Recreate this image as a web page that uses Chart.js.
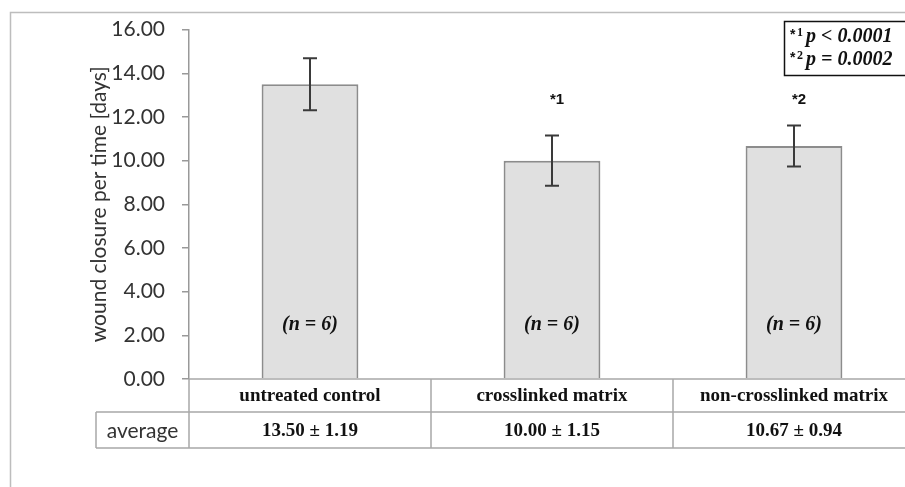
<!DOCTYPE html>
<html>
<head>
<meta charset="utf-8">
<script src="https://cdn.jsdelivr.net/npm/chart.js@4.4.1/dist/chart.umd.min.js"></script>
<style>
  html, body { margin: 0; padding: 0; background: #fff; overflow: hidden; }
  #wrap { position: relative; width: 930px; height: 487px; }
</style>
</head>
<body>
<div id="wrap"><canvas id="chart" width="930" height="487"></canvas></div>
<script>
const categories = ['untreated control', 'crosslinked matrix', 'non-crosslinked matrix'];
const averages = [13.50, 10.00, 10.67];
const errors = [1.19, 1.15, 0.94];
const averageLabels = ['13.50 \u00b1 1.19', '10.00 \u00b1 1.15', '10.67 \u00b1 0.94'];
const sampleLabels = ['(n = 6)', '(n = 6)', '(n = 6)'];
const starLabels = ['', '*1', '*2'];
const pValues = [['*1', 'p < 0.0001'], ['*2', 'p = 0.0002']];

const serifBold = 'bold 19px "Liberation Serif", serif';
const serifItalic = 'italic bold 20px "Liberation Serif", serif';

// frame, error bars, labels, table and p-value box
const extras = {
  id: 'extras',
  beforeDraw(chart) {
    const c = chart.ctx;
    c.save();
    c.strokeStyle = '#bdbdbd';
    c.lineWidth = 1.5;
    c.strokeRect(10.5, 12.5, 1000, 600);
    c.restore();
  },
  afterDatasetsDraw(chart) {
    const c = chart.ctx;
    const x = chart.scales.x, y = chart.scales.y;
    c.save();
    // error bars
    c.strokeStyle = '#3a3a3a';
    c.lineWidth = 2;
    averages.forEach((v, i) => {
      const cx = x.getPixelForValue(i);
      const hi = y.getPixelForValue(v + errors[i]);
      const lo = y.getPixelForValue(v - errors[i]);
      c.beginPath();
      c.moveTo(cx, hi); c.lineTo(cx, lo);
      c.moveTo(cx - 7, hi); c.lineTo(cx + 7, hi);
      c.moveTo(cx - 7, lo); c.lineTo(cx + 7, lo);
      c.stroke();
    });
    // n labels
    c.fillStyle = '#111';
    c.textAlign = 'center';
    c.textBaseline = 'middle';
    c.font = serifItalic;
    sampleLabels.forEach((t, i) => {
      c.fillText(t, x.getPixelForValue(i), y.getPixelForValue(2.5));
    });
    // significance stars
    c.font = 'bold 15px "Liberation Sans", sans-serif';
    starLabels.forEach((t, i) => {
      if (!t) return;
      c.fillText(t, x.getPixelForValue(i) + 5, y.getPixelForValue(12.8));
    });

    // table below the axis
    const top = y.bottom;
    const row1 = top + 33;
    const row2 = row1 + 36;
    const step = x.getPixelForValue(1) - x.getPixelForValue(0);
    const left = x.left;
    const right = x.left + step * categories.length;
    c.strokeStyle = '#a8a8a8';
    c.lineWidth = 1.5;
    c.beginPath();
    c.moveTo(left, top); c.lineTo(right, top);
    c.moveTo(96, row1); c.lineTo(right, row1);
    c.moveTo(96, row2); c.lineTo(right, row2);
    c.moveTo(96, row1); c.lineTo(96, row2);
    for (let i = 0; i <= categories.length; i++) {
      const lx = left + step * i;
      c.moveTo(lx, top); c.lineTo(lx, row2);
    }
    c.stroke();
    c.fillStyle = '#111';
    c.textAlign = 'center';
    c.textBaseline = 'middle';
    c.font = serifBold;
    categories.forEach((t, i) => {
      c.fillText(t, x.getPixelForValue(i), (top + row1) / 2 + 1);
      c.fillText(averageLabels[i], x.getPixelForValue(i), (row1 + row2) / 2 + 1);
    });
    c.font = '21px Lato, sans-serif';
    c.fillStyle = '#333';
    c.fillText('average', (96 + left) / 2, (row1 + row2) / 2 + 1);

    // p-value box
    c.strokeStyle = '#111';
    c.lineWidth = 1.5;
    c.strokeRect(784.5, 21.5, 140, 54);
    c.textAlign = 'left';
    c.fillStyle = '#111';
    pValues.forEach((p, i) => {
      const ty = 37 + i * 23;
      c.font = 'bold 14px "Liberation Sans", sans-serif';
      c.fillText(p[0][0], 790, ty - 2);
      c.font = 'bold 12px "Liberation Serif", serif';
      c.fillText(p[0].slice(1), 797, ty - 4);
      c.font = 'italic bold 20px "Liberation Serif", serif';
      c.fillText(p[1], 806, ty);
    });
    c.restore();
  }
};

new Chart(document.getElementById('chart').getContext('2d'), {
  type: 'bar',
  data: {
    labels: categories,
    datasets: [{
      data: averages,
      backgroundColor: '#e0e0e0',
      borderColor: '#8c8c8c',
      borderWidth: 2,
      categoryPercentage: 1,
      barPercentage: 0.4
    }]
  },
  options: {
    responsive: false,
    animation: false,
    layout: { padding: { top: 28, right: 15, left: 0, bottom: 0 } },
    plugins: { legend: { display: false }, tooltip: { enabled: false } },
    scales: {
      x: {
        ticks: { display: false },
        grid: { display: false },
        border: { display: false },
        afterFit(scale) { scale.height = 108; }
      },
      y: {
        min: 0,
        max: 16,
        ticks: {
          stepSize: 2,
          color: '#333',
          padding: 17,
          font: { family: 'Lato', size: 21 },
          callback: v => v.toFixed(2)
        },
        grid: { drawOnChartArea: false, drawTicks: true, tickLength: 7, color: '#999', lineWidth: 1.5 },
        border: { display: true, color: '#999', width: 1.5 },
        title: {
          display: true,
          text: 'wound closure per time [days]',
          color: '#333',
          font: { family: 'Lato', size: 21 },
          padding: { top: 87, bottom: 0 }
        },
        afterFit(scale) { scale.width = 189; }
      }
    }
  },
  plugins: [extras]
});
</script>
</body>
</html>
